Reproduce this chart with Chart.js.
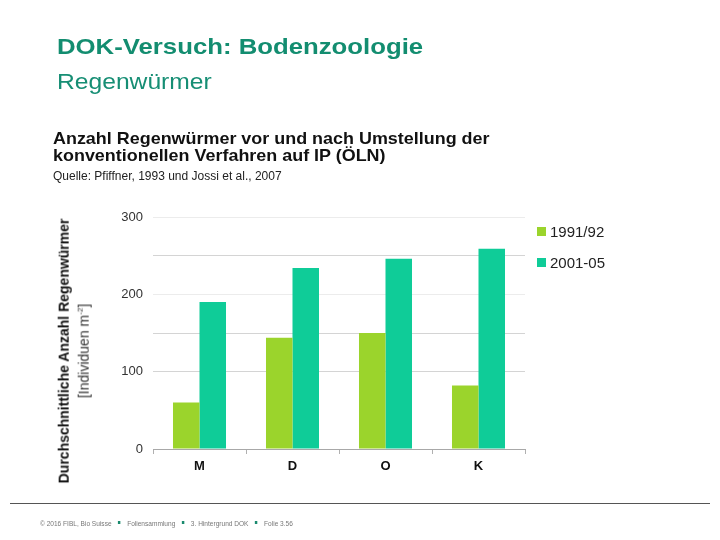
<!DOCTYPE html>
<html lang="de">
<head>
<meta charset="utf-8">
<title>DOK-Versuch: Bodenzoologie</title>
<script src="https://cdn.jsdelivr.net/npm/chart.js@4/dist/chart.umd.min.js"></script>
<style>
  html, body { margin: 0; padding: 0; background: #fff; }
  body { width: 720px; height: 540px; position: relative; overflow: hidden; font-family: Arial, "Liberation Sans", sans-serif; }
  .abs { position: absolute; white-space: nowrap; transform-origin: left top; }
  #slide-title { left: 57px; top: 34px; font-size: 22px; font-weight: bold; color: #138d70; transform: scaleX(1.17); }
  #slide-sub { left: 57px; top: 69px; font-size: 22px; color: #168e74; transform: scaleX(1.12); }
  #chart-head { left: 53px; top: 130px; font-size: 17px; font-weight: bold; color: #111; line-height: 17px; transform: scaleX(1.055); }
  #chart-src { left: 53px; top: 169px; font-size: 12px; color: #222; }
  #ytitle { left: 73px; top: 351px; transform: translate(-50%, -50%) rotate(-90deg); transform-origin: center center; text-align: center; color: #111; }
  #ytitle .l1 { font-size: 14px; font-weight: bold; line-height: 18px; }
  #ytitle .l2 { font-size: 14px; line-height: 16px; color: #333; }
  #legend { left: 537px; top: 224px; font-size: 15px; color: #222; }
  #legend div { height: 31px; line-height: 16px; }
  #legend span.sw { display: inline-block; width: 9px; height: 9px; margin-right: 4px; vertical-align: 1px; }
  #rule { left: 10px; top: 503px; width: 700px; height: 1px; background: #555; }
  #footer { left: 40px; top: 519px; font-size: 8px; color: #777; transform: scaleX(0.82); }
  #footer .sep { display: inline-block; width: 3px; height: 3px; background: #1a8a6e; margin: 0 8px; vertical-align: 2px; }
  #chart-box { position: absolute; left: 0; top: 0; width: 720px; height: 540px; }
</style>
</head>
<body>
<div id="chart-box"><canvas id="chart-worms" width="720" height="540"></canvas></div>

<div class="abs" id="slide-title">DOK-Versuch: Bodenzoologie</div>
<div class="abs" id="slide-sub">Regenwürmer</div>
<div class="abs" id="chart-head">Anzahl Regenwürmer vor und nach Umstellung der<br>konventionellen Verfahren auf IP (ÖLN)</div>
<div class="abs" id="chart-src">Quelle: Pfiffner, 1993 und Jossi et al., 2007</div>
<div class="abs" id="ytitle"><div class="l1">Durchschnittliche Anzahl Regenwürmer</div><div class="l2">[Individuen m<sup style="font-size:8px">-2</sup>]</div></div>
<div class="abs" id="legend"></div>
<div class="abs" id="rule"></div>
<div class="abs" id="footer">© 2016 FIBL, Bio Suisse<span class="sep"></span>Foliensammlung<span class="sep"></span>3. Hintergrund DOK<span class="sep"></span>Folie 3.56</div>

<script>
// Verfahren (M, D, O, K) and earthworm counts per m2
const verfahren = ['M', 'D', 'O', 'K'];
const seriesLabels = ['1991/92', '2001-05'];
const werte1991 = [60, 144, 150, 82];
const werte2001 = [190, 234, 246, 259];
const seriesColors = ['#9bd42c', '#0fcc98'];

// Legend drawn as html next to the plot
document.getElementById('legend').innerHTML = seriesLabels.map((lbl, i) =>
  `<div><span class="sw" style="background:${seriesColors[i]}"></span>${lbl}</div>`
).join('');

// light grid, some lines darker as in the slide
const gridColor = (ctx) => {
  const v = ctx.tick && ctx.tick.value;
  if (v === 0 || v === 50) return 'rgba(0,0,0,0)';
  if (v === 300 || v === 200) return '#ececec';
  return '#d4d4d4';
};

new Chart(document.getElementById('chart-worms'), {
  type: 'bar',
  data: {
    labels: verfahren,
    datasets: [
      { label: seriesLabels[0], data: werte1991, backgroundColor: seriesColors[0] },
      { label: seriesLabels[1], data: werte2001, backgroundColor: seriesColors[1] }
    ]
  },
  options: {
    responsive: false,
    animation: false,
    events: [],
    layout: { padding: { left: 113, right: 195, top: 217, bottom: 61 } },
    datasets: { bar: { categoryPercentage: 0.57, barPercentage: 1.0 } },
    plugins: {
      legend: { display: false },
      tooltip: { enabled: false }
    },
    scales: {
      x: {
        grid: { drawOnChartArea: false, drawTicks: true, tickLength: 5, color: '#b0b0b0', offset: true },
        border: { display: true, color: '#a8a8a8' },
        ticks: { color: '#111', padding: 5, font: { family: 'Arial', size: 13, weight: 'bold' } },
        afterFit: (scale) => { scale.height = 30; }
      },
      y: {
        min: 0,
        max: 300,
        ticks: {
          stepSize: 50,
          padding: 10,
          color: '#333',
          font: { family: 'Arial', size: 13 },
          callback: (v) => (v % 100 === 0 ? v : '')
        },
        grid: { color: gridColor, drawTicks: false },
        border: { display: false },
        afterFit: (scale) => { scale.width = 40; }
      }
    }
  }
});
</script>
</body>
</html>
